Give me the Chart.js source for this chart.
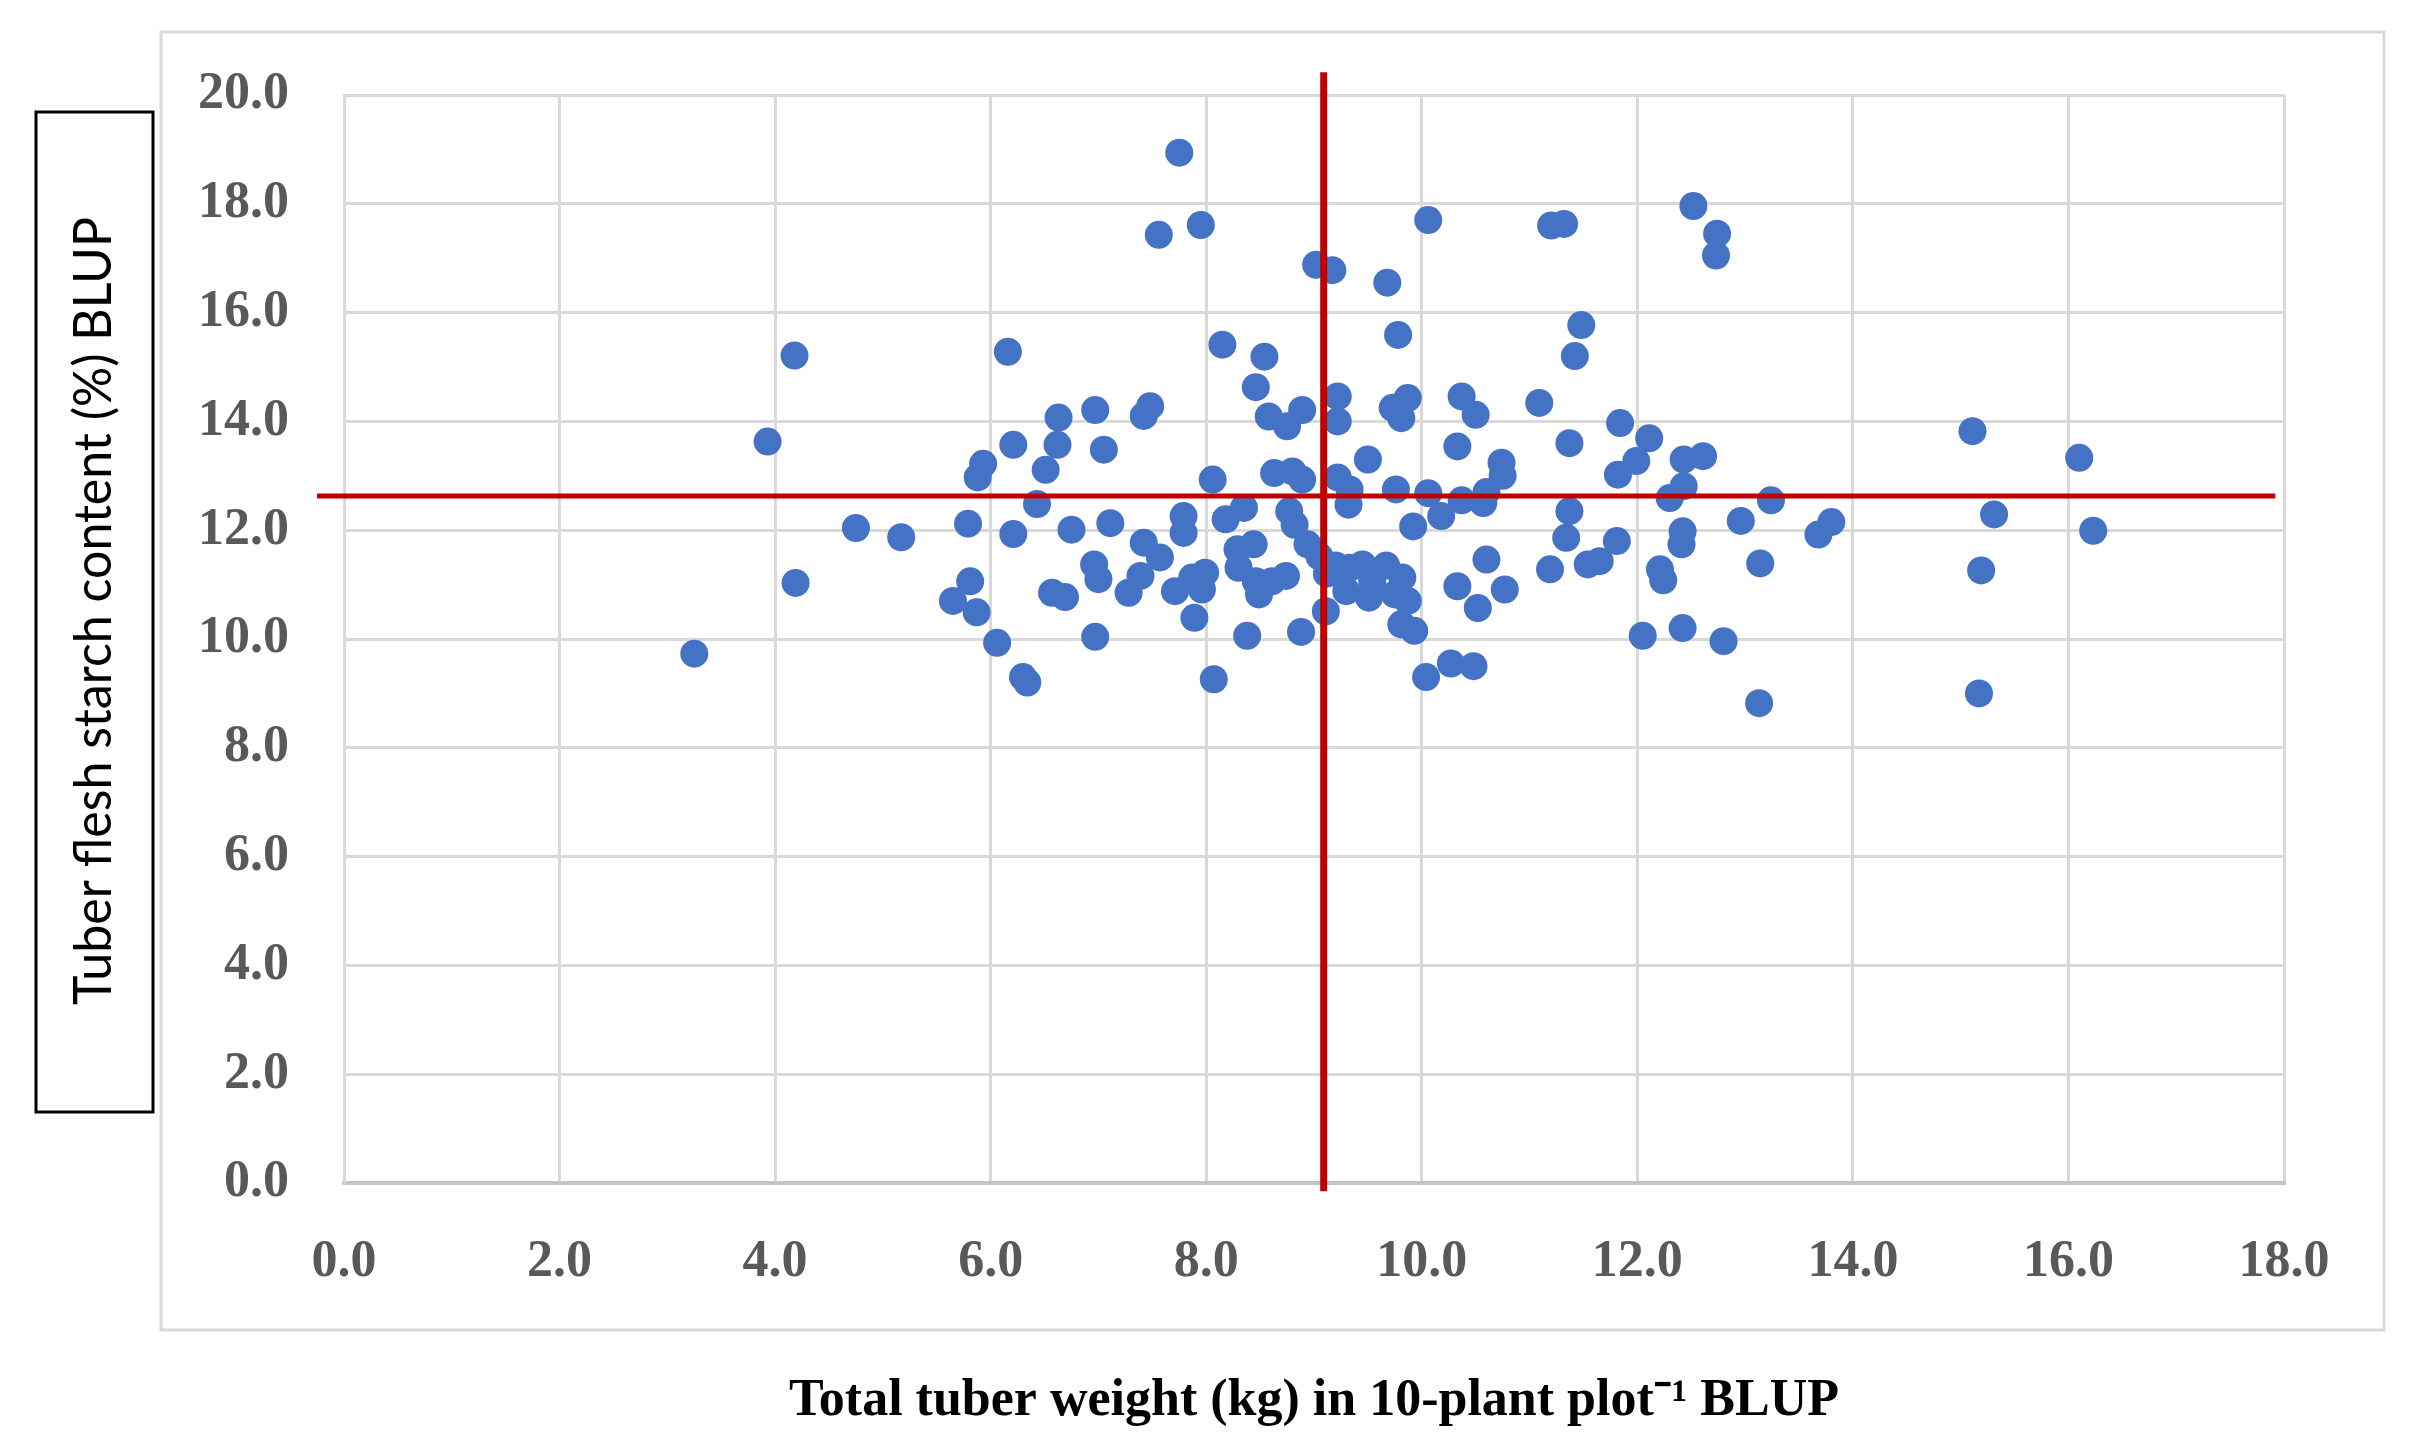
<!DOCTYPE html>
<html>
<head>
<meta charset="utf-8">
<script src="https://cdn.jsdelivr.net/npm/chart.js@4.4.0/dist/chart.umd.min.js"></script>
<style>
  html, body { margin: 0; padding: 0; background: #fff; }
  canvas { display: block; }
</style>
</head>
<body>
<canvas id="starchChart" width="2435" height="1453"></canvas>
<script>
// Total tuber weight BLUP (kg / 10-plant plot)
const weightBlup = [
  3.25, 3.93, 4.18, 4.19, 4.75, 5.17, 5.65, 5.79, 5.81, 5.87,
  5.88, 5.93, 6.06, 6.16, 6.21, 6.21, 6.30, 6.34, 6.43, 6.51,
  6.62, 6.63, 6.57, 6.69, 6.75, 6.96, 6.97, 6.97, 7.00, 7.05,
  7.11, 7.28, 7.39, 7.42, 7.42, 7.48, 7.56, 7.57, 7.75, 7.71,
  7.79, 7.79, 7.87, 7.89, 7.95, 7.96, 7.99, 8.06, 8.07, 8.15,
  8.18, 8.29, 8.30, 8.35, 8.38, 8.44, 8.46, 8.46, 8.49, 8.54,
  8.58, 8.61, 8.63, 8.74, 8.75, 8.77, 8.80, 8.82, 8.88, 8.89,
  8.89, 8.94, 9.02, 9.05, 9.11, 9.12, 9.17, 9.22, 9.22, 9.22,
  9.33, 9.32, 9.20, 9.30, 9.33, 9.45, 9.50, 9.51, 9.54, 9.67,
  9.68, 9.73, 9.75, 9.76, 9.78, 9.81, 9.82, 9.81, 9.87, 9.87,
  9.92, 9.93, 10.04, 10.06, 10.06, 10.18, 10.27, 10.33, 10.33, 10.37,
  10.37, 10.48, 10.50, 10.52, 10.57, 10.60, 10.60, 10.74, 10.75, 10.77,
  11.09, 11.19, 11.20, 11.32, 11.34, 11.37, 11.37, 11.42, 11.48, 11.54,
  11.65, 11.81, 11.82, 11.84, 11.99, 12.05, 12.11, 12.21, 12.24, 12.30,
  12.41, 12.42, 12.42, 12.43, 12.43, 12.52, 12.61, 12.73, 12.74, 12.80,
  12.96, 13.13, 13.14, 13.24, 13.68, 13.80, 15.11, 15.17, 15.19, 15.31,
  16.10, 16.23
];

// Tuber flesh starch content BLUP (%)
const starchBlup = [
  9.73, 13.63, 15.21, 11.03, 12.04, 11.87, 10.70, 12.12, 11.06, 10.49,
  12.97, 13.22, 9.93, 15.28, 13.57, 11.93, 9.30, 9.20, 12.48, 13.11,
  13.57, 14.07, 10.85, 10.77, 12.01, 11.37, 14.21, 10.04, 11.10, 13.48,
  12.13, 10.85, 11.16, 11.77, 14.10, 14.28, 17.43, 11.50, 18.94, 10.88,
  12.26, 11.95, 11.13, 10.39, 17.61, 10.91, 11.22, 12.93, 9.26, 15.41,
  12.20, 11.65, 11.31, 12.41, 10.06, 11.74, 14.63, 11.06, 10.82, 15.19,
  14.09, 11.06, 13.05, 11.16, 13.91, 12.35, 13.08, 12.10, 10.13, 14.21,
  12.93, 11.74, 16.88, 11.52, 10.51, 11.20, 16.78, 14.46, 14.00, 12.97,
  12.75, 12.47, 11.35, 10.88, 11.31, 11.37, 13.30, 10.76, 11.06, 11.35,
  16.55, 14.25, 10.82, 12.75, 15.59, 14.06, 11.13, 10.27, 14.43, 10.70,
  12.07, 10.15, 9.30, 17.70, 12.68, 12.26, 9.55, 13.54, 10.97, 14.46,
  12.55, 9.50, 14.12, 10.57, 12.50, 12.70, 11.46, 13.24, 13.00, 10.91,
  14.34, 11.28, 17.60, 17.63, 11.86, 13.60, 12.35, 15.20, 15.77, 11.37,
  11.43, 11.80, 13.02, 13.97, 13.27, 10.06, 13.69, 11.28, 11.08, 12.59,
  11.74, 11.98, 10.20, 12.81, 13.30, 17.96, 13.36, 17.05, 17.45, 9.96,
  12.17, 8.82, 11.39, 12.55, 11.92, 12.15, 13.82, 9.00, 11.26, 12.29,
  13.33, 11.99
];

// Mean reference lines (value, start, end in axis units)
const meanWeight = 9.09;
const meanWeightSpan = [-0.15, 20.42];
const meanStarch = 12.63;
const meanStarchSpan = [-0.25, 17.92];

const xTitle = 'Total tuber weight (kg) in 10-plant plot\u207B\u00B9 BLUP';
const yTitle = 'Tuber flesh starch content (%) BLUP';

const points = weightBlup.map((w, i) => ({ x: w, y: starchBlup[i] }));

const frameAndTitle = {
  id: 'frameAndTitle',
  beforeDraw(chart) {
    const ctx = chart.ctx;
    ctx.save();
    ctx.fillStyle = '#ffffff';
    ctx.fillRect(0, 0, chart.width, chart.height);
    // outer chart frame
    ctx.strokeStyle = '#d9d9d9';
    ctx.lineWidth = 3;
    ctx.strokeRect(161, 32, 2223, 1298);
    // boxed y title
    ctx.strokeStyle = '#000000';
    ctx.lineWidth = 3;
    ctx.strokeRect(36, 112, 117, 1000);
    ctx.translate(94, 611);
    ctx.rotate(-Math.PI / 2);
    ctx.font = '52px Lato';
    const w = ctx.measureText(yTitle).width;
    ctx.scale(Math.min(1, 788 / w), 1);
    ctx.fillStyle = '#000000';
    ctx.textAlign = 'center';
    ctx.textBaseline = 'middle';
    ctx.fillText(yTitle, 0, 0);
    ctx.restore();
  }
};

const tickFont = { family: "'Liberation Serif', serif", size: 52, weight: 'bold' };

new Chart(document.getElementById('starchChart').getContext('2d'), {
  type: 'scatter',
  data: {
    datasets: [
      {
        label: 'Mean weight',
        data: [{ x: meanWeight, y: meanWeightSpan[0] }, { x: meanWeight, y: meanWeightSpan[1] }],
        showLine: true,
        borderColor: '#c00000',
        borderWidth: 7,
        pointRadius: 0,
        clip: false,
        order: 0
      },
      {
        label: 'Mean starch',
        data: [{ x: meanStarchSpan[0], y: meanStarch }, { x: meanStarchSpan[1], y: meanStarch }],
        showLine: true,
        borderColor: '#c00000',
        borderWidth: 5,
        pointRadius: 0,
        clip: false,
        order: 0
      },
      {
        label: 'Clones',
        data: points,
        backgroundColor: '#4472c4',
        borderWidth: 0,
        pointRadius: 14,
        pointHoverRadius: 14,
        order: 1
      }
    ]
  },
  options: {
    responsive: false,
    animation: false,
    devicePixelRatio: 1,
    events: [],
    layout: { padding: { top: 95, right: 151, bottom: 0, left: 0 } },
    plugins: {
      legend: { display: false },
      tooltip: { enabled: false }
    },
    scales: {
      x: {
        type: 'linear',
        min: 0,
        max: 18,
        afterFit: (scale) => { scale.height = 270; },
        grid: { color: '#d9d9d9', lineWidth: 3, drawTicks: false },
        border: { color: '#c4c4c4', width: 4 },
        ticks: {
          stepSize: 2,
          padding: 48,
          color: '#595959',
          font: tickFont,
          callback: (v) => v.toFixed(1)
        },
        title: {
          display: true,
          text: xTitle,
          color: '#000000',
          font: { family: "'Liberation Serif', serif", size: 52, weight: 'bold' },
          padding: { top: 0, bottom: 20 }
        }
      },
      y: {
        type: 'linear',
        min: 0,
        max: 20,
        afterFit: (scale) => { scale.width = 344; },
        grid: { color: '#d9d9d9', lineWidth: 3, drawTicks: false },
        border: { color: '#d9d9d9', width: 3 },
        ticks: {
          stepSize: 2,
          padding: 55,
          color: '#595959',
          font: tickFont,
          callback: (v) => v.toFixed(1)
        }
      }
    }
  },
  plugins: [frameAndTitle]
});
</script>
</body>
</html>
